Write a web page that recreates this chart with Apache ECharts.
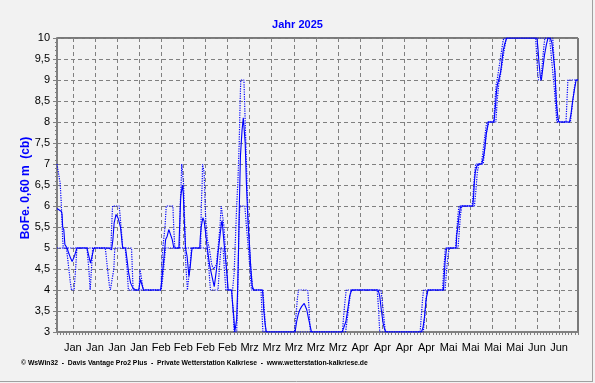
<!DOCTYPE html>
<html>
<head>
<meta charset="utf-8">
<script src="https://cdn.jsdelivr.net/npm/echarts@6/dist/echarts.min.js"></script>
<style>
html,body{margin:0;padding:0;background:#F2F2F2;}
#chart{width:595px;height:383px;}
</style>
</head>
<body>
<div id="chart"></div>
<script>
// ---- data (day offsets from 1 Jan 2025, soil tension in cb) ----
const monthNames = ['Jan','Feb','Mrz','Apr','Mai','Jun'];
const dayCount = 166;

const meanDays = [0,1.4,1.6,1.8,2.15,2.5,3.2,3.7,4.3,4.8,5.5,6.3,9.5,10.6,11.7,16.4,17.3,17.7,18.1,18.7,19.4,20.1,20.8,21.7,22.2,22.7,23.3,24.0,24.9,25.9,26.4,27.0,27.4,32.8,33.1,33.5,33.9,34.4,34.9,35.4,35.9,36.5,37.0,38.6,38.8,39.2,39.7,40.0,40.3,40.7,41.2,41.6,41.8,42.2,42.6,42.8,45.2,45.4,45.7,46.2,46.6,47.0,47.4,47.8,48.4,49.1,49.8,50.1,50.5,51.0,51.6,52.1,52.3,52.9,53.4,53.9,54.2,55.3,55.6,56.0,56.3,56.6,56.9,57.2,57.5,57.8,58.1,58.6,59.0,59.3,59.6,60.0,60.5,61.0,61.4,61.8,62.3,65.1,65.5,65.9,66.3,75.4,75.9,76.4,76.9,77.5,78.3,79.1,79.6,80.1,80.6,90.3,90.8,91.5,91.9,92.3,92.7,93.3,101.7,102.2,102.7,103.3,103.8,104.3,115.4,115.9,116.4,116.9,117.5,122.4,122.6,122.9,123.3,123.5,126.4,126.6,126.9,127.3,127.7,128.0,131.7,131.9,132.2,132.5,132.9,133.4,134.5,135.0,135.5,135.9,136.3,136.6,138.4,138.9,139.2,139.5,139.9,140.5,140.9,141.3,141.8,142.4,152.0,152.3,152.6,153.1,153.4,153.9,154.4,155.0,155.5,156.2,156.7,157.3,157.7,158.1,158.5,158.9,162.3,162.8,163.3,163.9,164.4,165];
const meanVals = [5.94,5.87,5.8,5.5,5.44,5.08,5.0,4.88,4.76,4.68,4.8,5.0,5.0,4.64,5.0,5.0,4.96,5.2,5.6,5.8,5.7,5.5,5.0,5.0,4.72,4.4,4.17,4.05,4.0,4.0,4.25,4.25,4.0,4.0,4.17,4.48,4.8,5.2,5.28,5.44,5.45,5.2,5.0,5.0,5.44,6.23,6.5,6.3,5.67,5.0,4.8,4.48,4.33,4.56,4.88,5.0,5.0,5.28,5.52,5.72,5.64,5.4,5.12,4.88,4.56,4.32,4.08,4.05,4.48,4.88,5.28,5.6,5.65,5.12,4.72,4.32,4.0,4.0,3.68,3.36,3.0,3.0,3.3,4.0,5.0,6.2,7.2,7.8,8.1,8.1,7.5,6.5,5.6,5.0,4.5,4.1,4.0,4.0,3.5,3.2,3.0,3.0,3.25,3.42,3.53,3.61,3.68,3.53,3.34,3.17,3.0,3.0,3.1,3.25,3.45,3.65,3.86,4.0,4.0,3.86,3.53,3.2,3.05,3.0,3.0,3.1,3.37,3.78,4.0,4.0,4.28,4.67,4.95,5.0,5.0,5.31,5.47,5.75,5.95,6.0,6.0,6.19,6.59,6.82,6.94,7.0,7.0,7.14,7.38,7.7,7.86,8.0,8.0,8.42,8.74,8.9,9.0,9.2,9.45,9.7,9.86,10,10,9.77,9.45,9.06,9.0,9.3,9.6,9.85,10,10,9.9,9.5,9.2,8.5,8.2,8.0,8.0,8.2,8.5,8.78,9.0,9.0];

const maxDays = [0,0.6,1.0,1.3,1.6,1.8,2.0,17.1,17.3,17.6,19.7,20.3,20.8,23.6,24.1,26.0,26.3,26.9,27.3,33.0,33.1,33.5,34.2,34.6,36.7,37.0,37.3,38.8,39.0,39.3,39.5,39.8,40.1,40.5,40.7,45.5,45.7,46.0,46.1,46.3,46.6,46.8,47.1,47.6,48.2,49.0,49.6,50.5,51.0,51.6,52.0,52.5,52.9,53.3,53.7,54.1,55.6,56.1,56.5,56.9,57.3,57.7,58.0,58.2,59.2,59.6,60.0,60.4,60.8,61.3,62.0,65.2,65.6,66.1,75.2,75.7,76.1,76.5,79.4,79.8,80.1,80.3,90.4,90.8,91.3,91.6,102.6,103.2,103.7,104.0,115.0,115.4,115.8,116.1,122.1,122.4,122.8,123.0,126.2,126.6,127.0,127.3,131.5,131.9,132.3,132.6,134.4,134.9,135.4,135.9,136.2,138.3,138.7,139.1,139.4,140.0,140.6,141.2,141.5,157.0,157.4,157.8,158.2,158.5,161.2,161.5,161.8,165];
const maxVals = [7.0,7.0,6.54,6.14,5.6,5.2,5.0,5.0,5.5,6.0,6.0,5.5,5.0,5.0,4.0,4.0,4.5,4.5,4.0,4.0,4.5,5.0,5.5,6.0,6.0,5.44,5.0,5.0,6.0,6.5,7.0,7.0,6.5,5.44,5.0,5.0,6.0,6.6,7.0,7.0,6.8,6.3,5.68,5.2,5.0,4.6,4.5,4.6,5.0,5.5,6.0,6.0,5.5,5.0,4.5,4.0,4.0,4.4,5.2,6.0,6.6,7.5,8.5,9.0,9.0,8.0,7.0,6.0,5.3,4.6,4.0,4.0,3.6,3.0,3.0,3.4,3.78,4.0,4.0,3.6,3.14,3.0,3.0,3.4,3.8,4.0,4.0,3.6,3.2,3.0,3.0,3.4,3.8,4.0,4.0,4.4,4.8,5.0,5.0,5.4,5.8,6.0,6.0,6.4,6.8,7.0,7.0,7.3,7.6,7.9,8.0,8.0,8.5,8.9,9.0,9.3,9.6,9.9,10.0,10,9.5,9.0,8.5,8.0,8.0,8.5,9.0,9.0];

const minDays = [0,3.0,3.6,4.2,4.6,5.4,5.9,6.3,9.5,10.1,10.5,10.9,11.3,15.3,16.0,16.6,16.9,17.5,18.0,18.3,21.6,22.2,22.6,33.0,33.5,34.0,34.4,40.5,40.9,41.3,41.7,42.2,42.6,47.5,48.1,48.6,51.0,51.5,51.9,52.6,53.0,53.5,55.3,55.8,56.1,56.9,57.1,57.4,57.6,57.9,59.5,60.0,60.6,61.1,61.6,64.6,64.9,65.2,91.4,91.9,92.4,92.9,93.2,101.4,101.8,102.2,116.0,116.5,116.9,117.3,122.9,123.3,123.8,124.3,127.0,127.4,127.8,128.2,132.2,132.7,133.1,133.6,135.0,135.5,136.1,136.8,139.0,139.4,139.9,140.4,141.0,141.6,142.3,151.6,151.9,152.2,152.5,153.3,153.7,154.2,154.5,156.0,156.5,157.0,157.5,158.0,158.3,162.6,163.2,163.8,164.3,165];
const minVals = [5.0,5.0,4.6,4.2,4.0,4.0,4.5,5.0,5.0,4.48,4.0,4.48,5.0,5.0,4.5,4.1,4.0,4.0,4.5,5.0,5.0,4.5,4.0,4.0,4.3,4.7,5.0,5.0,4.48,4.0,4.0,4.64,5.0,5.0,4.5,4.0,4.0,4.6,5.0,5.0,4.5,4.0,4.0,3.5,3.0,3.0,3.5,4.5,5.5,6.0,6.0,5.5,5.0,4.5,4.0,4.0,3.5,3.0,3.0,3.3,3.6,3.9,4.0,4.0,3.6,3.0,3.0,3.4,3.8,4.0,4.0,4.4,4.8,5.0,5.0,5.4,5.8,6.0,6.0,6.4,6.8,7.0,7.0,7.4,7.8,8.0,8.0,8.5,8.9,9.1,9.4,9.7,10.0,10,9.6,9.2,9.0,9.0,9.4,9.8,10,10,9.6,9.2,8.8,8.3,8.0,8.0,8.4,8.8,9.0,9.0];

// ---- build ----
const dayCats = [];
for (let i = 0; i < dayCount; i++) {
  const dt = new Date(Date.UTC(2025, 0, 1 + i));
  dayCats.push(monthNames[dt.getUTCMonth()]);
}
const isWeekTick = (i) => i % 7 === 5;
const pairs = (ds, vs) => ds.map((d, i) => [d, vs[i]]);

const FONT = 'Liberation Sans, Arial, sans-serif';
const grid = {left: 57, right: 17, top: 38, bottom: 51};
const dash = {color: '#808080', type: [4, 3], width: 1};

const chart = echarts.init(document.getElementById('chart'), null, {renderer: 'canvas'});
chart.setOption({
  animation: false,
  backgroundColor: '#F2F2F2',
  textStyle: {fontFamily: FONT},
  title: {
    text: 'Jahr 2025', left: 'center', top: 14,
    textStyle: {color: '#0000FF', fontWeight: 'bold', fontSize: 11, fontFamily: FONT}
  },
  grid: Object.assign({show: true, borderColor: '#000', borderWidth: 1, backgroundColor: 'transparent'}, grid),
  xAxis: [{
    type: 'category', data: dayCats, boundaryGap: false,
    axisLine: {lineStyle: {color: '#808080', width: 2}},
    axisTick: {show: true, interval: 0, length: 3, lineStyle: {color: '#808080'}},
    axisLabel: {interval: (i) => isWeekTick(i), color: '#000', fontSize: 11, margin: 10, fontFamily: FONT},
    splitLine: {show: true, interval: (i) => isWeekTick(i), lineStyle: dash}
  }, {
    type: 'value', min: 0, max: dayCount - 1, show: false
  }],
  yAxis: {
    type: 'value', min: 3, max: 10, interval: 0.5,
    axisLine: {show: true, lineStyle: {color: '#808080', width: 2}},
    axisTick: {show: true, length: 4, lineStyle: {color: '#808080'}},
    minorTick: {show: true, splitNumber: 5, length: 2, lineStyle: {color: '#808080'}},
    axisLabel: {color: '#000', fontSize: 11, margin: 7, fontFamily: FONT,
      formatter: (v) => String(v).replace('.', ',')},
    splitLine: {show: true, lineStyle: dash}
  },
  series: [
    {type: 'line', xAxisIndex: 1, data: pairs(maxDays, maxVals), symbol: 'none',
      lineStyle: {color: '#0000FF', width: 1.2, type: [1.2, 1.2]}},
    {type: 'line', xAxisIndex: 1, data: pairs(minDays, minVals), symbol: 'none',
      lineStyle: {color: '#0000FF', width: 1.2, type: [1.2, 1.2]}},
    {type: 'line', xAxisIndex: 1, data: pairs(meanDays, meanVals), symbol: 'none',
      lineStyle: {color: '#0000FF', width: 1.1}}
  ],
  graphic: [
    {type: 'text', x: 26, y: 188, rotation: Math.PI / 2,
      style: {text: 'BoFe. 0,60 m  (cb)', fill: '#0000FF', font: 'bold 12px ' + FONT,
        align: 'center', verticalAlign: 'middle'}},
    {type: 'text', left: 21, top: 360,
      style: {text: '© WsWin32  -  Davis Vantage Pro2 Plus  -  Private Wetterstation Kalkriese  -  www.wetterstation-kalkriese.de',
        fill: '#000', font: 'bold 6.8px ' + FONT}},
    {type: 'line', shape: {x1: 592.5, y1: 0, x2: 592.5, y2: 382}, style: {stroke: '#A0A0A0', lineWidth: 1}},
    {type: 'line', shape: {x1: 0, y1: 381.5, x2: 593, y2: 381.5}, style: {stroke: '#A0A0A0', lineWidth: 1}}
  ]
});
</script>
</body>
</html>
